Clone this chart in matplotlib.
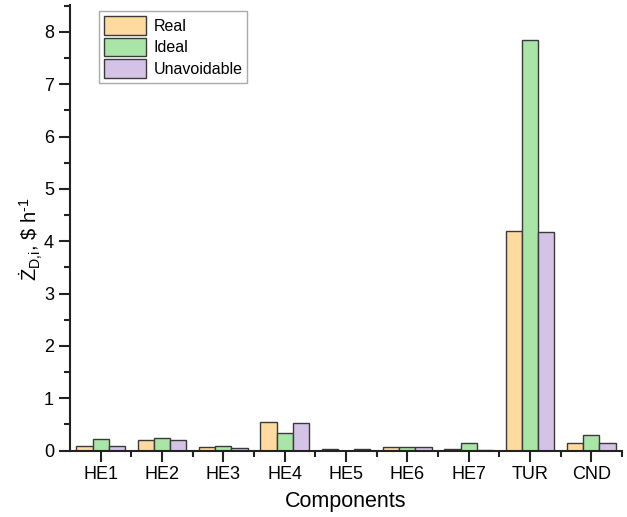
import numpy as np
from matplotlib import pyplot as plt
from matplotlib.ticker import MultipleLocator, FixedLocator

plt.rcParams['font.family'] = ['Liberation Sans', 'DejaVu Sans']
plt.rcParams['mathtext.fontset'] = 'custom'
plt.rcParams['mathtext.rm'] = 'Liberation Sans'
plt.rcParams['mathtext.it'] = 'Liberation Sans:italic'

components = ['HE1', 'HE2', 'HE3', 'HE4', 'HE5', 'HE6', 'HE7', 'TUR', 'CND']
real = [0.095, 0.20, 0.06, 0.54, 0.035, 0.075, 0.02, 4.20, 0.145]
ideal = [0.22, 0.23, 0.08, 0.33, 0.0, 0.06, 0.145, 7.84, 0.29]
unavoidable = [0.08, 0.20, 0.05, 0.52, 0.03, 0.075, 0.01, 4.17, 0.14]

colors = ['#FFDA9E', '#A8E5A6', '#D5C3E7']
edge = '#3a3a3a'

fig = plt.figure(figsize=(6.27, 5.17), dpi=100)
ax = fig.add_axes([0.1116, 0.1286, 0.8804, 0.8614])

x = np.arange(1, len(components) + 1)
w = 0.264
ax.bar(x - w, real, w, color=colors[0], edgecolor=edge, linewidth=1, label='Real')
ax.bar(x, ideal, w, color=colors[1], edgecolor=edge, linewidth=1, label='Ideal')
ax.bar(x + w, unavoidable, w, color=colors[2], edgecolor=edge, linewidth=1, label='Unavoidable')

ax.set_xlim(0.5, 9.5)
ax.set_ylim(0, 8.51)
ax.set_xticks(x)
ax.set_xticklabels(components)
ax.xaxis.set_minor_locator(FixedLocator(np.arange(1.5, 9.6, 1)))
ax.yaxis.set_major_locator(MultipleLocator(1))
ax.yaxis.set_minor_locator(MultipleLocator(0.5))

for s in ['top', 'right']:
    ax.spines[s].set_visible(False)
for s in ['left', 'bottom']:
    ax.spines[s].set_linewidth(1.5)
    ax.spines[s].set_color('#222222')

ax.tick_params(which='major', length=8, width=1.5, labelsize=13, color='#222222')
ax.tick_params(which='minor', length=4, width=1.5, color='#222222')
ax.tick_params(axis='x', pad=3)

ax.set_xlabel('Components', fontsize=15.5, labelpad=6)
ylab = r'$\dot{\mathrm{Z}}_{\mathrm{D{,}i}}$, \$ h$^{\mathrm{' + '\u2010' + r'1}}$'
ax.set_ylabel(ylab, fontsize=14.5)
ax.yaxis.set_label_coords(-0.045, 0.475)

leg = ax.legend(loc='upper left', bbox_to_anchor=(0.053, 0.986), fontsize=11.5,
                fancybox=False, framealpha=1, edgecolor='#aaaaaa',
                handlelength=2.6, handleheight=1.4, borderpad=0.3,
                labelspacing=0.2, handletextpad=0.5, borderaxespad=0)

plt.savefig('out.png', dpi=100)
